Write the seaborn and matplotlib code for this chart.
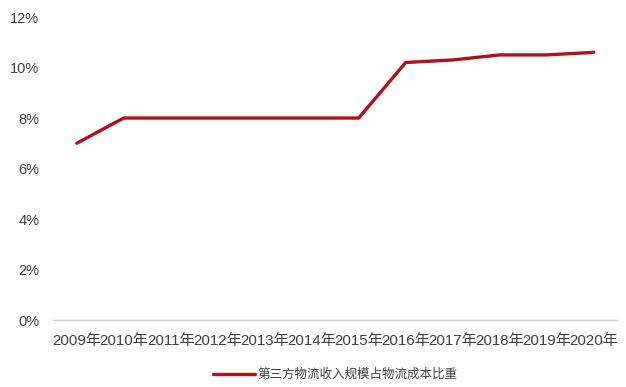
import matplotlib
matplotlib.use("Agg")
import matplotlib.pyplot as plt
import seaborn as sns
import pandas as pd
from matplotlib.ticker import FuncFormatter

years = ["2009年", "2010年", "2011年", "2012年", "2013年", "2014年",
         "2015年", "2016年", "2017年", "2018年", "2019年", "2020年"]
share = [7.0, 8.0, 8.0, 8.0, 8.0, 8.0, 8.0, 10.2, 10.3, 10.5, 10.5, 10.6]
series_name = "第三方物流收入规模占物流成本比重"

df = pd.DataFrame({"year": years, "share": share, "series": series_name})

sns.set_theme(style="white")
plt.rcParams["font.family"] = ["Noto Sans CJK SC", "DejaVu Sans"]

fig = plt.figure(figsize=(6.26, 3.87), dpi=100)
ax = fig.add_axes([0.085, 0.173, 0.901, 0.783])

sns.lineplot(data=df, x="year", y="share", hue="series", palette=["#B0111B"],
             linewidth=2.4, sort=False, ax=ax)

ax.set_ylim(0, 12)
ax.set_yticks(range(0, 13, 2))
ax.yaxis.set_major_formatter(FuncFormatter(lambda v, p: f"{int(v)}%"))
ax.set_xlim(-0.5, len(years) - 0.5)
ax.set_xlabel("")
ax.set_ylabel("")
ax.tick_params(axis="y", labelsize=10.5, colors="#404040", length=0, pad=10)
ax.tick_params(axis="x", labelsize=10.8, colors="#404040", length=0, pad=10)
for lab in ax.get_xticklabels() + ax.get_yticklabels():
    lab.set_fontfamily(["Liberation Sans", "Noto Sans CJK SC"])

for side in ["top", "right", "left"]:
    ax.spines[side].set_visible(False)
ax.spines["bottom"].set_color("#D0D0D0")
ax.spines["bottom"].set_linewidth(1.0)

leg = ax.legend(loc="upper center", bbox_to_anchor=(0.5, -0.13), frameon=False,
                fontsize=9, handlelength=3.4, handletextpad=0.2,
                borderpad=0.2)
for t in leg.get_texts():
    t.set_color("#404040")

fig.savefig("out.png", dpi=100)
